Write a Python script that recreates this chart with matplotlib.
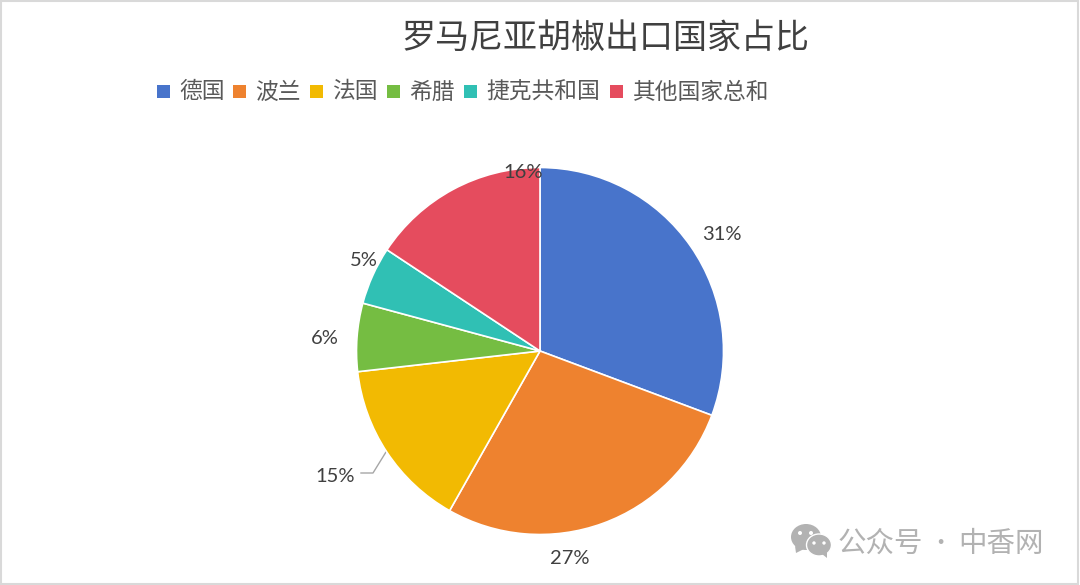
import matplotlib
matplotlib.use('Agg')
import matplotlib.pyplot as plt
from matplotlib.patches import Rectangle, Ellipse, Polygon

plt.rcParams['font.family'] = ['Noto Sans CJK SC', 'DejaVu Sans']

W, H = 1080, 585

title = '罗马尼亚胡椒出口国家占比'
countries = ['德国', '波兰', '法国', '希腊', '捷克共和国', '其他国家总和']
shares = [30.7, 27.5, 15, 6, 5.1, 15.7]
colors = ['#4874CB', '#EE822F', '#F2BA02', '#75BD42', '#30C0B4', '#E54C5E']
pct_labels = ['31%', '27%', '15%', '6%', '5%', '16%']


def px(x, y):
    # pixel position in the reference -> figure fraction
    return x / W, 1 - y / H


fig = plt.figure(figsize=(W / 100, H / 100), dpi=100, facecolor='white')

# full size layer for border, legend squares and the watermark icon
bg = fig.add_axes([0, 0, 1, 1])
bg.set_xlim(0, W)
bg.set_ylim(H, 0)
bg.axis('off')
bg.add_patch(Rectangle((0.5, 1), W - 2.5, H - 2.5, fill=False, ec='#d9d9d9', lw=1.5))

# pie
cx, cy, r = 540, 351, 183.5
x0, y0 = px(cx - r, cy + r)
ax = fig.add_axes([x0, y0, 2 * r / W, 2 * r / H])
ax.pie(shares, colors=colors, startangle=90, counterclock=False, radius=1,
       wedgeprops={'edgecolor': 'white', 'linewidth': 1.2})
ax.set_xlim(-1, 1)
ax.set_ylim(-1, 1)

fig.text(*px(605, 38), title, fontsize=24.5, color='#404040', ha='center', va='center')

# legend
square_x = [157, 233, 310, 387, 464, 610]
text_x = [180, 256, 333, 410, 487, 634]
for sx, tx, name, c in zip(square_x, text_x, countries, colors):
    bg.add_patch(Rectangle((sx, 85), 13, 13, fc=c, ec='none'))
    fig.text(*px(tx - 1, 92), name, fontsize=16.4, color='#595959', ha='left', va='center')

# percent labels
label_pos = [(722, 234), (570, 558), (335, 476), (325, 339), (364, 261), (523, 172)]
for (lx, ly), lab in zip(label_pos, pct_labels):
    fig.text(*px(lx, ly), lab, fontsize=14.5, color='#404040', ha='center', va='center',
             family=['Lato', 'DejaVu Sans'])

# leader line for 15%
bg.plot([386, 373, 361], [452, 473, 473], color='#a6a6a6', lw=1)
bg.set_xlim(0, W)
bg.set_ylim(H, 0)

# watermark
wm = '#b2b2b2'
bg.add_patch(Ellipse((806, 537), 30, 26, fc=wm, ec='none'))
bg.add_patch(Polygon([[795, 546], [796, 553], [804, 549]], fc=wm, ec='none'))
bg.add_patch(Ellipse((819, 545), 25, 22, fc=wm, ec='white', lw=1))
bg.add_patch(Polygon([[822, 554], [827, 558], [827, 552]], fc=wm, ec='none'))
for ex, ey, er in [(800, 533, 2), (811, 533, 2), (814, 543, 1.7), (824, 543, 1.7)]:
    bg.add_patch(Ellipse((ex, ey), 2 * er, 2 * er, fc='white', ec='none'))
fig.text(*px(838, 544), '公众号', fontsize=20.5, color=wm, ha='left', va='center')
fig.text(*px(940, 544), '·', fontsize=16, color=wm, ha='center', va='center')
fig.text(*px(958, 544), '中香网', fontsize=20.5, color=wm, ha='left', va='center')

fig.savefig('out.png', dpi=100)
